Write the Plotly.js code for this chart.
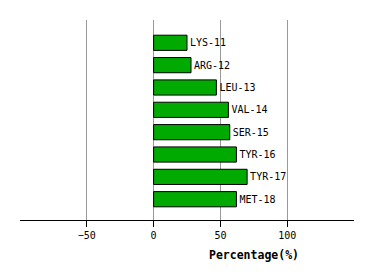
<!DOCTYPE html>
<html>
<head>
<meta charset="utf-8">
<script src="https://cdn.plot.ly/plotly-3.0.1.min.js"></script>
<style>html,body{margin:0;padding:0;background:#fff;}#chart{width:374px;height:280px;}</style>
</head>
<body>
<div id="chart"></div>
<script>
var residues = ["LYS-11","ARG-12","LEU-13","VAL-14","SER-15","TYR-16","TYR-17","MET-18"];
var percentages = [25, 28, 47, 56, 57, 62, 70, 62];
var tickValues = [-50, 0, 50, 100];
var tickLabels = ["\u221250", "0", "50", "100"];
var axisTitle = "Percentage(%)";

var trace = {
  type: "bar",
  orientation: "h",
  y: residues,
  x: percentages,
  width: 0.68,
  marker: {color: "#00aa00", line: {color: "#000000", width: 1}},
  text: residues,
  textposition: "outside",
  cliponaxis: false,
  textfont: {family: "DejaVu Sans Mono", size: 10, color: "#000"},
  hoverinfo: "none"
};

var layout = {
  width: 374, height: 280,
  margin: {l: 20, r: 20, t: 20, b: 60},
  paper_bgcolor: "#fff", plot_bgcolor: "#fff",
  showlegend: false,
  xaxis: {
    range: [-100, 150],
    tickvals: tickValues, ticktext: tickLabels,
    showgrid: true, gridcolor: "#999999", gridwidth: 1,
    zeroline: false,
    showline: true, linecolor: "#000", linewidth: 1,
    ticks: "outside", ticklen: 6, tickcolor: "#000",
    tickfont: {family: "DejaVu Sans Mono", size: 10, color: "#000"},
    fixedrange: true
  },
  yaxis: {
    type: "category",
    range: [7.93, -1.02],
    showgrid: false, zeroline: false, showline: false,
    showticklabels: false, ticks: "",
    fixedrange: true
  },
  annotations: [{
    text: "<b>" + axisTitle + "</b>",
    xref: "paper", yref: "paper",
    x: 0.70, y: -0.175,
    xanchor: "center", yanchor: "middle",
    showarrow: false,
    font: {family: "DejaVu Sans Mono", size: 11.5, color: "#000"}
  }]
};

Plotly.newPlot("chart", [trace], layout, {staticPlot: true, displayModeBar: false});
</script>
</body>
</html>
